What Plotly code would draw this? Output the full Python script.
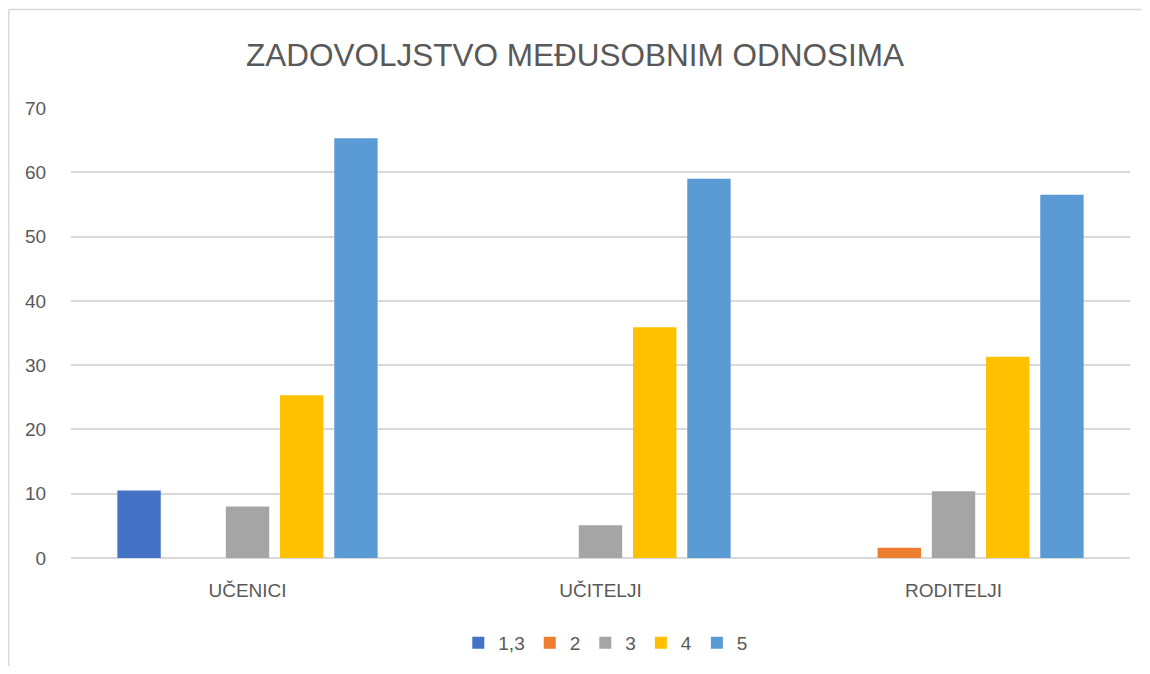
import plotly.graph_objects as go

categories = ["UČENICI", "UČITELJI", "RODITELJI"]
series_names = ["1,3", "2", "3", "4", "5"]
values_13 = [10.5, 0, 0]
values_2 = [0, 0, 1.6]
values_3 = [8.0, 5.1, 10.4]
values_4 = [25.3, 35.9, 31.3]
values_5 = [65.3, 59.0, 56.5]
colors = ["#4472C4", "#ED7D31", "#A5A5A5", "#FFC000", "#5B9BD5"]

all_values = [values_13, values_2, values_3, values_4, values_5]

fig = go.Figure()
for name, vals, col in zip(series_names, all_values, colors):
    fig.add_trace(go.Bar(x=categories, y=vals, name=name, marker_color=col,
                         marker_line_width=0))

font_fam = "Liberation Sans, Arial, sans-serif"
# the page body adds an 8px offset; figure coordinates are screen minus 8
W, H = 1134, 658
ml, mr, mt, mb = 63, 1134 - 1122, 100, 658 - 550
pw = W - ml - mr
ph = H - mt - mb

left_x = (0.8 - ml) / pw
top_y = ((H - mb) - 1.5) / ph
far_x = (W + 20 - ml) / pw
low_y = -(H + 20 - (H - mb)) / ph

fig.update_layout(
    width=W, height=H,
    margin=dict(l=ml, r=mr, t=mt, b=mb, autoexpand=False),
    paper_bgcolor="white", plot_bgcolor="white",
    barmode="group", bargap=0.232, bargroupgap=0.2,
    title=dict(text="ZADOVOLJSTVO MEĐUSOBNIM ODNOSIMA", x=0.5, xanchor="center",
               y=1 - 47 / H, yanchor="middle",
               font=dict(family=font_fam, size=31.5, color="#595959")),
    font=dict(family=font_fam, color="#595959"),
    xaxis=dict(showgrid=False, showline=False, ticks="", ticklabelstandoff=19,
               tickfont=dict(size=19, color="#595959")),
    yaxis=dict(range=[0, 70], dtick=10, showgrid=True, gridcolor="#D9D9D9", gridwidth=1.5,
               zeroline=True, zerolinecolor="#D9D9D9", zerolinewidth=1.5,
               showline=False, ticks="outside", ticklen=20, tickcolor="rgba(0,0,0,0)",
               tickfont=dict(size=19, color="#595959")),
    legend=dict(orientation="h", x=0.505, xanchor="center", y=-(635 - 550) / ph, yanchor="middle",
                font=dict(size=19, color="#595959"), traceorder="normal", itemwidth=30),
    shapes=[
        dict(type="line", xref="paper", yref="paper", x0=left_x, x1=far_x, y0=top_y, y1=top_y,
             line=dict(color="#D9D9D9", width=1.5), layer="below"),
        dict(type="line", xref="paper", yref="paper", x0=left_x, x1=left_x, y0=low_y, y1=top_y,
             line=dict(color="#D9D9D9", width=1.5), layer="below"),
    ],
)

fig.write_html("out.html")
